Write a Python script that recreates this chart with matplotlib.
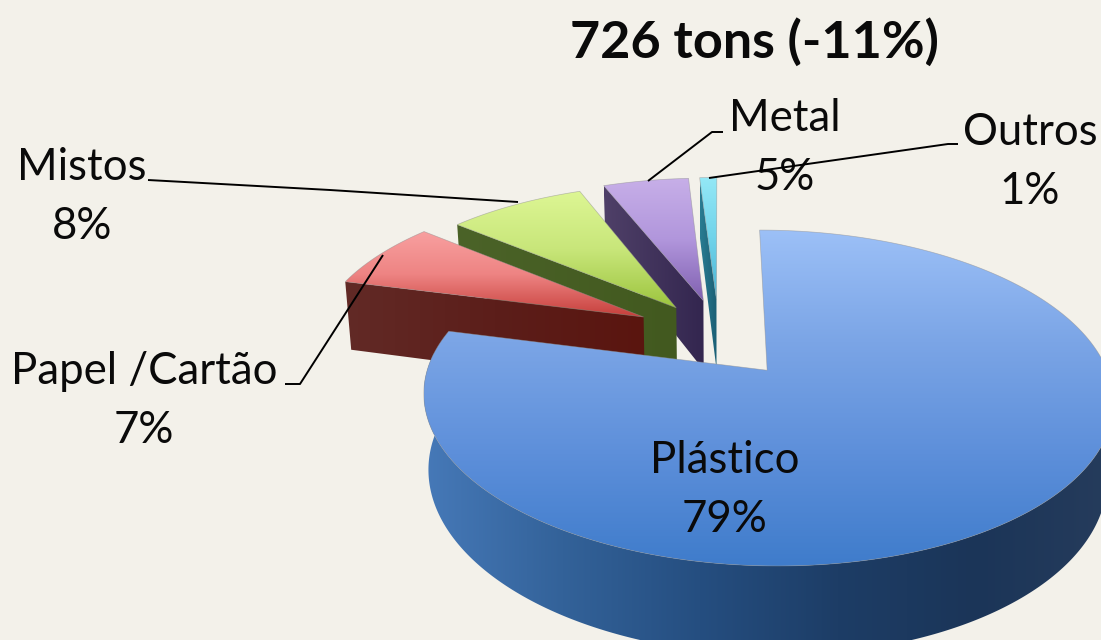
import numpy as np
import matplotlib
matplotlib.use("Agg")
import matplotlib.pyplot as plt
from matplotlib.colors import LinearSegmentedColormap
from matplotlib.patches import PathPatch
from matplotlib.path import Path

# ---- data ----
categories = ["Plástico", "Papel /Cartão", "Mistos", "Metal", "Outros"]
values = [79, 7, 8, 5, 1]
title = "726 tons (-11%)"

# ---- styles ----
BG = "#F3F1EA"
top_colors = {
    "Plástico": ["#9CC0F7", "#7BA5E6", "#5D8FDA", "#3F7CCB"],
    "Papel /Cartão": ["#F8A0A0", "#EE8483", "#C63F3B"],
    "Mistos": ["#DDF694", "#C8E67A", "#9CC43E"],
    "Metal": ["#C7AFE8", "#B196DC", "#8060B0"],
    "Outros": ["#94E8F6", "#70D3EA", "#4AB4D4"],
}
side_colors = {
    "Plástico": ["#4679B8", "#336299", "#254E80", "#1D3D66", "#1B3558", "#263C5C"],
    "Papel /Cartão": ["#622A26", "#5C1E1A", "#5A150F"],
    "Mistos": ["#4B6328", "#42591F"],
    "Metal": ["#4F4068", "#33264F"],
    "Outros": ["#2A7C92", "#1A5F75"],
}
label_pos = {
    "Plástico": (725, 490),
    "Papel /Cartão": (144, 401),
    "Mistos": (82, 197),
    "Metal": (785, 148),
    "Outros": (1030, 162),
}
leaders = {
    "Papel /Cartão": [(383, 255), (300, 384), (285, 384)],
    "Mistos": [(518, 202), (330, 190), (148, 180)],
    "Metal": [(648, 181), (712, 132), (723, 132)],
    "Outros": [(709, 178), (948, 144), (958, 144)],
}
slice_nudge_x = [0, 3, 10, 7, 5]
slice_nudge_y = [0, -4, 0, -1, -1]

# projection of the tilted disc to the canvas
CX, CY, SX, SY, K = 714.0, 338.4, 329.0, 153.0, 0.16
DEPTH, SHRINK, EXPLODE = 72.0, 0.016, 0.255


def project(u, v):
    w = 1 + K * np.asarray(v)
    return CX + SX * np.asarray(u) / w, CY - SY * np.asarray(v) / w


def drop(x, y, v):
    w = 1 + K * np.asarray(v)
    return CX + (x - CX) * (1 - SHRINK), y + DEPTH / w


fig = plt.figure(figsize=(11.01, 6.40), dpi=100, facecolor=BG)
ax = fig.add_axes([0, 0, 1, 1])
ax.set_facecolor(BG)
ax.axis("off")
z = [10]


def gradient_fill(xs, ys, colors, vertical):
    verts = np.column_stack([xs, ys])
    path = Path(np.vstack([verts, verts[0]]), closed=True)
    cmap = LinearSegmentedColormap.from_list("g", colors)
    g = np.linspace(0, 1, 256)
    arr = g[:, None] if vertical else g[None, :]
    z[0] += 1
    x0, x1, y0, y1 = xs.min(), xs.max(), ys.min(), ys.max()
    im = ax.imshow(arr, cmap=cmap, origin="upper", aspect="auto", interpolation="bilinear",
                   extent=(x0, x1 + 0.01, y1 + 0.01, y0), zorder=z[0])
    patch = PathPatch(path, transform=ax.transData, facecolor="none", edgecolor="none")
    im.set_clip_path(patch)


fractions = np.array(values, dtype=float) / np.sum(values)
ends = 90 - np.cumsum(fractions) * 360
starts = np.concatenate([[90], ends[:-1]])

# back wedges first, the large front wedge last
for i in [4, 3, 2, 1, 0]:
    name = categories[i]
    a0, a1 = np.radians(starts[i]), np.radians(ends[i])
    mid = (a0 + a1) / 2
    u0, v0 = EXPLODE * np.cos(mid), EXPLODE * np.sin(mid)
    t = np.linspace(a0, a1, 400)
    arc_u, arc_v = u0 + np.cos(t), v0 + np.sin(t)
    nx, ny = slice_nudge_x[i], slice_nudge_y[i]

    if i == 0:
        # outer rim facing the viewer
        tf = np.linspace(np.radians(-186), 0.04, 400)
        fu, fv = u0 + np.cos(tf), v0 + np.sin(tf)
    else:
        # cut face on the edge with the larger angle, which is turned to the viewer
        fu, fv = np.array([arc_u[0], u0]), np.array([arc_v[0], v0])
    px, py = project(fu, fv)
    bx, by = drop(px, py, fv)
    gradient_fill(np.concatenate([px, bx[::-1]]) + nx, np.concatenate([py, by[::-1]]) + ny,
                  side_colors[name], False)

    # top surface
    xs, ys = project(np.concatenate([[u0], arc_u]), np.concatenate([[v0], arc_v]))
    xs, ys = xs + nx, ys + ny
    gradient_fill(xs, ys, top_colors[name], True)
    z[0] += 1
    ax.add_patch(PathPatch(Path(np.column_stack([np.r_[xs, xs[0]], np.r_[ys, ys[0]]]), closed=True),
                           facecolor="none", edgecolor="#8E8E8E", lw=0.5, alpha=0.55, zorder=z[0]))

# labels, leader lines, title
for name, val in zip(categories, values):
    x, y = label_pos[name]
    ax.text(x, y, f"{name}\n{val}%", ha="center", va="center", fontsize=31.5, family="Lato",
            color="#0A0A0A", linespacing=1.55, zorder=60)
    if name in leaders:
        lx, ly = zip(*leaders[name])
        ax.plot(lx, ly, color="black", lw=1.4, zorder=61, solid_capstyle="butt")

ax.text(754, 42, title, ha="center", va="center", fontsize=37.5, family="Lato",
        fontweight="bold", color="#0A0A0A", zorder=60)

ax.set_xlim(0, 1101)
ax.set_ylim(640, 0)
fig.savefig("out.png", dpi=100, facecolor=BG)
